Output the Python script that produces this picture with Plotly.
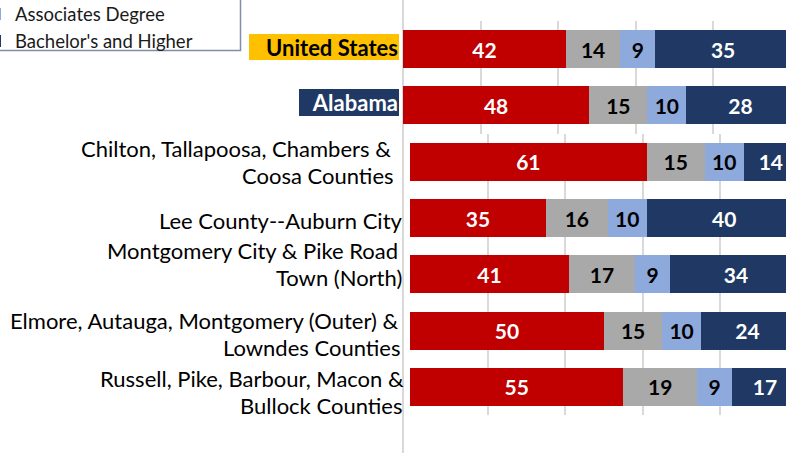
import plotly.graph_objects as go

# ---------------- data ----------------
categories = [
    "United States",
    "Alabama",
    "Chilton, Tallapoosa, Chambers &<br>Coosa Counties",
    "Lee County--Auburn City",
    "Montgomery City & Pike Road<br>Town (North)",
    "Elmore, Autauga, Montgomery (Outer) &<br>Lowndes Counties",
    "Russell, Pike, Barbour, Macon &<br>Bullock Counties",
]
series_names = ["High School or Less", "Some College, No Degree",
                "Associates Degree", "Bachelor's and Higher"]
hs_or_less = [42, 48, 61, 35, 41, 50, 55]
some_college = [14, 15, 15, 16, 17, 15, 19]
associates = [9, 10, 10, 10, 9, 10, 9]
bachelors = [35, 28, 14, 40, 34, 24, 17]
gridline_values = [20, 40, 60, 80]

# ---------------- styles ----------------
W, H = 786, 453
FONT = "Lato"
colors = ["#C00000", "#A9A9A9", "#8EA9DB", "#203864"]
text_colors = ["white", "black", "black", "white"]
legend_visible = [False, False, True, True]
PX_PER_UNIT = 3.88
top_left_px, bottom_left_px = 403, 410
plot_top_px, plot_bottom_px = 21, 415
split = 2
row_px = (plot_bottom_px - plot_top_px) / len(categories)
split_px = plot_top_px + split * row_px

# label styling (pixel offsets)
line_gap_px = 26.6
label_right_px = [[399], [399], [391, 394], [403], [398, 402], [398, 400], [404, 402]]
label_yshift = [2, 2.5, 0, -2, 10.3, -3.7, -5]
highlight = {
    0: dict(bgcolor="#FFC000", color="black", width=148, height=24),
    1: dict(bgcolor="#203864", color="white", width=98, height=25),
}

values = [hs_or_less, some_college, associates, bachelors]

fig = go.Figure()
for i, (name, vals) in enumerate(zip(series_names, values)):
    for part, (xa, ya) in enumerate([("x", "y"), ("x2", "y2")]):
        sl = slice(0, split) if part == 0 else slice(split, None)
        fig.add_trace(go.Bar(
            y=categories[sl], x=vals[sl], orientation="h", name=name,
            marker=dict(color=colors[i], line=dict(width=0)),
            texttemplate="<b>%{x}</b>", textposition="inside",
            insidetextanchor="middle", textangle=0,
            textfont=dict(family=FONT, size=21, color=text_colors[i]),
            xaxis=xa, yaxis=ya, legendgroup=name,
            showlegend=(part == 0 and legend_visible[i]),
            hoverinfo="skip",
        ))

axis_common = dict(showticklabels=False, ticks="", zeroline=False, showline=False,
                   tickmode="array", tickvals=gridline_values,
                   gridcolor="#D9D9D9", gridwidth=2, showgrid=True)
yaxis_common = dict(showticklabels=False, ticks="", showgrid=False, zeroline=False,
                    showline=False, type="category")

fig.update_layout(
    width=W, height=H,
    margin=dict(l=0, r=0, t=0, b=0, autoexpand=False),
    paper_bgcolor="white", plot_bgcolor="white",
    barmode="stack", bargap=0.325,
    font=dict(family=FONT, color="black"),
    xaxis=dict(domain=[top_left_px / W, 1], range=[0, (W - top_left_px) / PX_PER_UNIT],
               anchor="y", **axis_common),
    xaxis2=dict(domain=[bottom_left_px / W, 1], range=[0, (W - bottom_left_px) / PX_PER_UNIT],
                anchor="y2", **axis_common),
    yaxis=dict(domain=[1 - split_px / H, 1 - plot_top_px / H],
               range=[split - 0.5, -0.5], anchor="x",
               categoryorder="array", categoryarray=categories[:split], **yaxis_common),
    yaxis2=dict(domain=[1 - plot_bottom_px / H, 1 - split_px / H],
                range=[len(categories) - split - 0.5, -0.5], anchor="x2",
                categoryorder="array", categoryarray=categories[split:], **yaxis_common),
    legend=dict(
        x=-25 / W, xanchor="left", y=1 - 28 / H, yanchor="middle",
        traceorder="normal", bgcolor="rgba(0,0,0,0)", borderwidth=0,
        font=dict(family=FONT, size=18.5, color="#1a1a1a"),
    ),
    showlegend=True,
)

# legend frame (its top and left edges fall outside the picture)
fig.add_shape(type="rect", xref="paper", yref="paper",
              x0=-6 / W, x1=240.5 / W, y0=1 - 50.5 / H, y1=1 + 6 / H,
              line=dict(color="#7F8FA6", width=1.5), fillcolor="rgba(0,0,0,0)")

# vertical category axis line spanning the full height
fig.add_shape(type="line", xref="paper", yref="paper",
              x0=top_left_px / W, x1=top_left_px / W, y0=-0.05, y1=1.05,
              line=dict(color="#D9D9D9", width=2), layer="below")

for idx, label in enumerate(categories):
    yref = "y" if idx < split else "y2"
    lines = label.split("<br>")
    n = len(lines)
    for li, line in enumerate(lines):
        offset = ((n - 1) / 2 - li) * line_gap_px
        common = dict(x=top_left_px / W, xref="paper", y=label, yref=yref,
                      xanchor="right", yanchor="middle", showarrow=False,
                      xshift=label_right_px[idx][li] - top_left_px,
                      yshift=label_yshift[idx] + offset)
        if idx in highlight:
            hl = highlight[idx]
            fig.add_annotation(text="<b>" + line + "</b>", align="right",
                               bgcolor=hl["bgcolor"], width=hl["width"], height=hl["height"],
                               borderpad=1, borderwidth=0,
                               font=dict(family=FONT, size=22, color=hl["color"]), **common)
        else:
            fig.add_annotation(text=line, align="right", borderpad=0, borderwidth=0,
                               font=dict(family=FONT, size=22, color="black"), **common)

fig.write_html("out.html", config={"displayModeBar": False},
               post_script="document.body.style.margin='0';document.body.style.overflow='hidden';")
